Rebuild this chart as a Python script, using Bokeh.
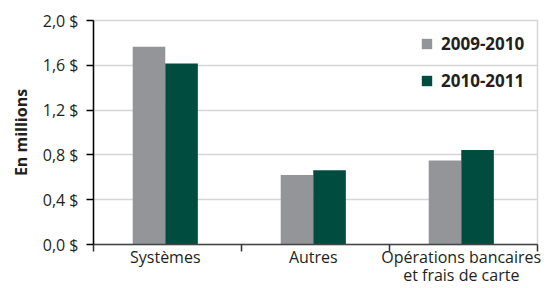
import numpy as np
from bokeh.plotting import figure
from bokeh.models import ColumnDataSource, Range1d, FixedTicker
from bokeh.transform import dodge
from bokeh.embed import file_html
from bokeh.resources import INLINE

categories = ["Systèmes", "Autres", "Opérations bancaires\net frais de carte"]
series_names = ["2009-2010", "2010-2011"]
values_2009 = [1.765, 0.62, 0.75]
values_2010 = [1.615, 0.663, 0.843]
y_ticks = [0.0, 0.4, 0.8, 1.2, 1.6, 2.0]
y_tick_labels = ["0,0 $", "0,4 $", "0,8 $", "1,2 $", "1,6 $", "2,0 $"]

GRAY = "#939598"
GREEN = "#004c3f"
FONT = "Open Sans"

# each category occupies one unit; the bar pair sits slightly left of the unit centre
pair_centers = [i + 0.485 for i in range(len(categories))]
source = ColumnDataSource(dict(x=pair_centers, a=values_2009, b=values_2010))

p = figure(width=550, height=288, output_backend="svg", toolbar_location=None,
           x_range=Range1d(0, len(categories)), y_range=Range1d(0, 2.0),
           min_border_left=93, min_border_right=13, min_border_top=20, min_border_bottom=41)

p.vbar(x=dodge("x", -0.11, range=p.x_range), top="a", width=0.22, source=source,
       color=GRAY, line_color=None, legend_label=series_names[0])
p.vbar(x=dodge("x", 0.11, range=p.x_range), top="b", width=0.22, source=source,
       color=GREEN, line_color=None, legend_label=series_names[1])

# axes
p.xaxis.ticker = FixedTicker(ticks=pair_centers, minor_ticks=list(range(len(categories) + 1)))
p.xaxis.major_label_overrides = {c: lab for c, lab in zip(pair_centers, categories)}
p.xaxis.major_tick_out = 0
p.xaxis.major_tick_in = 0
p.xaxis.minor_tick_out = 7
p.xaxis.minor_tick_in = 0
p.xaxis.minor_tick_line_color = "#333333"
p.xaxis.minor_tick_line_width = 1.5
p.xaxis.axis_line_color = "#444444"
p.xaxis.axis_line_width = 1.5
p.xaxis.major_label_standoff = -6
p.xaxis.major_label_text_font = FONT
p.xaxis.major_label_text_font_size = "16px"
p.xaxis.major_label_text_color = "#231f20"
p.xaxis.major_label_text_line_height = 0.82

p.yaxis.ticker = FixedTicker(ticks=y_ticks)
p.yaxis.major_label_overrides = {t: lab for t, lab in zip(y_ticks, y_tick_labels)}
p.yaxis.minor_tick_line_color = None
p.yaxis.major_tick_out = 7
p.yaxis.major_tick_in = 0
p.yaxis.major_tick_line_color = "#000000"
p.yaxis.major_tick_line_width = 1.5
p.yaxis.axis_line_color = "#000000"
p.yaxis.axis_line_width = 1.5
p.yaxis.major_label_standoff = 8
p.yaxis.major_label_text_font = FONT
p.yaxis.major_label_text_font_size = "16px"
p.yaxis.major_label_text_color = "#231f20"
p.yaxis.axis_label = "En millions"
p.yaxis.axis_label_text_font = FONT
p.yaxis.axis_label_text_font_style = "bold"
p.yaxis.axis_label_text_font_size = "16px"
p.yaxis.axis_label_text_color = "#231f20"
p.yaxis.axis_label_standoff = 8

p.xgrid.grid_line_color = None
p.ygrid.ticker = FixedTicker(ticks=y_ticks)
p.ygrid.grid_line_color = "#d5d6d7"
p.ygrid.grid_line_width = 1.5
p.outline_line_color = "#d5d6d7"
p.outline_line_width = 1.5

# legend
lg = p.legend[0]
lg.margin = 0
lg.padding = 0
lg.border_line_color = None
lg.background_fill_alpha = 0
lg.glyph_width = 13
lg.glyph_height = 13
lg.label_height = 13
lg.label_standoff = 8
lg.spacing = 14
lg.label_text_font = FONT
lg.label_text_font_style = "bold"
lg.label_text_font_size = "17px"
lg.label_text_color = "#231f20"
lg.location = (327, 152)

open("out.html", "w").write(file_html(p, INLINE))
